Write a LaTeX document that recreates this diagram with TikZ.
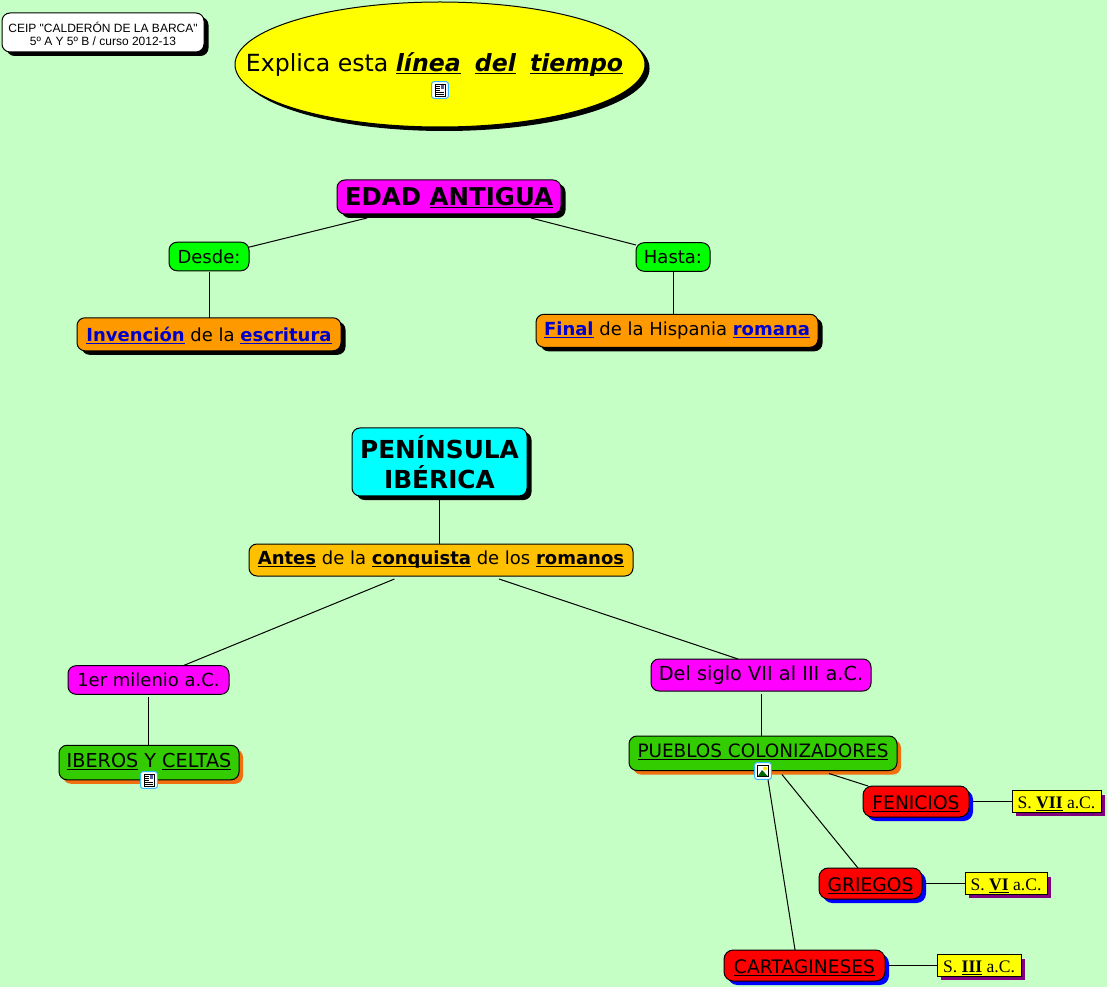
\documentclass[tikz,border=0pt]{standalone}
\usepackage{fontspec}
\setmainfont{DejaVu Sans}
\newfontfamily\arialface{Liberation Sans}
\newfontfamily\timesface{Liberation Serif}
\usetikzlibrary{positioning,shapes.geometric,shadows}
\definecolor{meadow}{HTML}{C5FFC5}
\definecolor{leaf}{HTML}{33CC00}
\definecolor{amber}{HTML}{FFC000}
\definecolor{linkblue}{HTML}{0000CC}
\definecolor{fuchsia}{HTML}{FF00FF}
\definecolor{aqua}{HTML}{00FFFF}
\definecolor{lemon}{HTML}{FFFF00}
\definecolor{lime}{HTML}{00FF00}
\definecolor{tangerine}{HTML}{FF9900}
\definecolor{pumpkin}{HTML}{F07010}
\definecolor{scarlet}{HTML}{FF0000}
\definecolor{royal}{HTML}{0000FF}
\definecolor{plum}{HTML}{800080}
\newcommand{\fsize}[1]{\fontsize{#1}{1.2\dimexpr#1\relax}\selectfont}
\newcommand{\uln}[1]{\leavevmode\setbox0=\hbox{#1}\rlap{\smash{\rule[-1.9pt]{\wd0}{.8pt}}}\box0\relax}
\newcommand{\lnk}[1]{\textbf{\textcolor{linkblue}{\uln{#1}}}}

\begin{document}
\begin{tikzpicture}[
    x=0.75pt, y=-0.75pt,
    base/.style={draw, rounded corners=6pt, align=center, inner sep=0pt, outer sep=0pt, line width=0.75pt, font=\fsize{13.5pt}},
    blackdrop/.style={general shadow={fill=black, shadow xshift=3.4pt, shadow yshift=-3pt}},
    orangedrop/.style={general shadow={fill=pumpkin, shadow xshift=3pt, shadow yshift=-3pt}},
    bluedrop/.style={general shadow={fill=royal, shadow xshift=3pt, shadow yshift=-3pt}},
    purpledrop/.style={general shadow={fill=plum, shadow xshift=3pt, shadow yshift=-3pt}},
    schoolbox/.style={base, fill=white, blackdrop, minimum width=151.5pt, minimum height=29.25pt, font=\arialface\fsize{9pt}},
    headbox/.style={base, fill=#1, blackdrop},
    bridgebox/.style={base, fill=lime, minimum height=21.4pt},
    pinkbox/.style={base, fill=fuchsia, minimum height=21.4pt},
    orangebox/.style={base, fill=tangerine, blackdrop, minimum height=24.75pt},
    peoplebox/.style={base, fill=leaf, orangedrop, minimum height=25.9pt},
    redbox/.style={base, fill=scarlet, bluedrop, rounded corners=7pt, minimum height=23.25pt, font=\fsize{14pt}},
    datebox/.style={draw, fill=lemon, purpledrop, inner sep=0pt, outer sep=0pt, line width=0.75pt, minimum height=16pt, font=\timesface\fsize{13.2pt}},
    iconbox/.style={draw=blue!35!cyan!80!white, fill=white, rounded corners=1.5pt, line width=0.75pt, minimum size=12.4pt, inner sep=0pt},
    link/.style={draw, line width=0.75pt},
    pics/docglyph/.style={code={
        \draw[fill=white, line width=0.5pt] (-5,-6) rectangle (5,6);
        \fill[blue!30!gray] (0.5,-5) rectangle (4,-1);
        \foreach \ypos in {-4,-2,0} {\draw[line width=0.4pt] (-4,\ypos) -- (0,\ypos);}
        \draw[line width=0.4pt] (-4,4) -- (4,4);
        \draw[line width=0.4pt] (-4,2) -- (4,2);
    }},
    pics/photoglyph/.style={code={
        \draw[fill=white, line width=0.5pt] (-5.5,-5.5) rectangle (5.5,5.5);
        \fill[lemon!80!tangerine] (2,-2.5) circle (2);
        \fill[lime!40!black] (-5,5) -- (-1,-1) -- (4.5,5) -- cycle;
    }}
]
\useasboundingbox (0,0) rectangle (1107,987);
\fill[meadow] (0,0) rectangle (1107,987);

% top row
\node[schoolbox] (school) at (103,32.5) {\rule{0pt}{10pt}CEIP "CALDERÓN DE LA BARCA"\\[-1pt]5º A Y 5º B / curso 2012-13};
\node[draw, ellipse, fill=lemon, blackdrop, inner sep=0pt, outer sep=0pt, line width=0.75pt, minimum width=307.5pt, minimum height=93.75pt] (task) at (440,64.5) {};
\node[inner sep=0pt, font=\fsize{17.7pt}] (tasktext) at (434.5,64.5) {Explica esta \textbf{\textit{\uln{línea}}}\hspace{.6em}\textbf{\textit{\uln{del}}}\hspace{.6em}\textbf{\textit{\uln{tiempo}}}};
\node[iconbox] (taskicon) at (440,90) {};
\pic at (taskicon) {docglyph};

% edad antigua
\node[headbox=fuchsia, minimum width=168pt, minimum height=25.5pt, font=\bfseries\fsize{18.35pt}] (age) at (449,197) {EDAD \uln{ANTIGUA}};
\node[bridgebox, minimum width=60pt] (since) at (209,256.5) {Desde:};
\node[bridgebox, minimum width=55.5pt] (until) at (673,257) {Hasta:};
\node[orangebox, minimum width=198pt, below=35.25pt of since] (invention) {\lnk{Invención} de la \lnk{escritura}};
\node[orangebox, minimum width=211.5pt, below=32.25pt of until, xshift=3pt] (ending) {\lnk{Final} de la Hispania \lnk{romana}};
\draw[link] ([xshift=-61.5pt]age.south) ++(0,4) -- ([yshift=7pt]since.east);
\draw[link] ([xshift=61.5pt]age.south) ++(0,4) -- ([yshift=9pt]until.west);
\draw[link] (since.south) ++(0,1) -- (invention.north);
\draw[link] (until.south) ++(0,1) -- ([xshift=-3pt]ending.north);

% peninsula
\node[headbox=aqua, minimum width=131.25pt, minimum height=51pt, font=\bfseries\fsize{18.6pt}] (iberia) at (439.5,462) {PENÍNSULA\\IBÉRICA};
\node[base, fill=amber, minimum width=288pt, minimum height=24pt, below=36pt of iberia, xshift=1.125pt] (before) {\textbf{\uln{Antes}} de la \textbf{\uln{conquista}} de los \textbf{\uln{romanos}}};
\node[pinkbox, minimum width=120.75pt] (millennium) at (148.5,680) {1er milenio a.C.};
\node[pinkbox, minimum width=165pt, minimum height=24pt, font=\fsize{14.5pt}] (centuries) at (761,675) {Del siglo VII al III a.C.};
\node[peoplebox, minimum width=135pt, below=38.25pt of millennium, xshift=0.4pt, font=\fsize{14.4pt}] (natives) {\raisebox{3pt}{\uln{IBEROS} Y \uln{CELTAS}}};
\node[peoplebox, minimum width=201pt, below=33.75pt of centuries, xshift=1.5pt, font=\fsize{13.8pt}] (settlers) {\raisebox{4pt}{\uln{PUEBLOS COLONIZADORES}}};
\node[iconbox] (nativesicon) at (149,780) {};
\pic at (nativesicon) {docglyph};
\node[iconbox] (settlersicon) at (763,771) {};
\pic at (settlersicon) {photoglyph};

\node[redbox, minimum width=79.5pt] (phoenicians) at (916,801.5) {\rule{0pt}{11.6pt}\uln{FENICIOS}};
\node[redbox, minimum width=77.25pt] (greeks) at (870.5,883.5) {\rule{0pt}{11.6pt}\uln{GRIEGOS}};
\node[redbox, minimum width=120.75pt] (carthage) at (804.5,965.5) {\rule{0pt}{11.6pt}\uln{CARTAGINESES}};
\node[datebox, minimum width=66.75pt, right=32.25pt of phoenicians] (dateseven) {\rule{0pt}{11pt}S. \textbf{\uln{VII}} a.C.};
\node[datebox, minimum width=61.5pt, right=32.25pt of greeks] (datesix) {\rule{0pt}{11pt}S. \textbf{\uln{VI}} a.C.};
\node[datebox, minimum width=63pt, right=39pt of carthage] (datethree) {\rule{0pt}{11pt}S. \textbf{\uln{III}} a.C.};

\draw[link] (iberia.south) ++(0,4) -- ([xshift=-1.125pt]before.north);
\draw[link] ([xshift=-34.9pt]before.south) ++(0,3) -- ([xshift=25.9pt]millennium.north);
\draw[link] ([xshift=43.5pt]before.south) ++(0,3) -- ([xshift=-17.25pt]centuries.north);
\draw[link] (millennium.south) ++(0,3) -- ([xshift=-0.4pt]natives.north);
\draw[link] (centuries.south) ++(0,3) -- ([xshift=-1.5pt]settlers.north);
\draw[link] ([xshift=49.5pt]settlers.south) ++(0,3) -- ([xshift=-36pt]phoenicians.north);
\draw[link] ([xshift=14.25pt]settlers.south) ++(0,4) -- ([xshift=-9.4pt]greeks.north);
\draw[link] ([xshift=3.75pt]settlersicon.south) -- ([xshift=-7.1pt]carthage.north);
\draw[link] (phoenicians.east) ++(4,0) -- (dateseven.west);
\draw[link] (greeks.east) ++(3,0) -- (datesix.west);
\draw[link] (carthage.east) ++(4,0) -- (datethree.west);
\end{tikzpicture}
\end{document}
